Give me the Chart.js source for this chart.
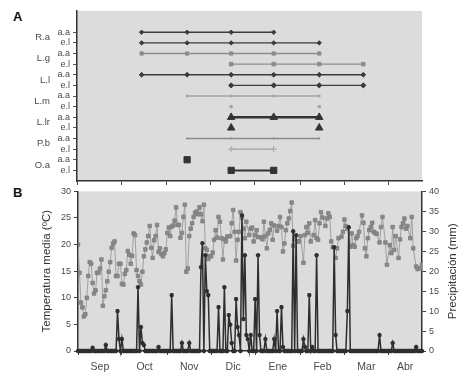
<!DOCTYPE html>
<html>
<head>
<meta charset="utf-8">
<title>Fenología y clima</title>
<script src="https://cdn.jsdelivr.net/npm/chart.js@4/dist/chart.umd.min.js"></script>
<style>
  body { margin:0; background:#fff; width:463px; height:381px; position:relative; overflow:hidden; font-family:"Liberation Sans", Arial, sans-serif; }
  canvas { position:absolute; left:0; }
  #chartA { top:0; }
  #chartB { top:183px; }
  .panel { position:absolute; font-weight:bold; font-size:13px; color:#111; }
</style>
</head>
<body>
<div class="panel" style="left:13px;top:9px;">A</div>
<div class="panel" style="left:13px;top:185px;">B</div>
<canvas id="chartA" width="463" height="190"></canvas>
<canvas id="chartB" width="463" height="198"></canvas>
<script>
// ---- axis: days from 1 Sep ----
const months = ['Sep','Oct','Nov','Dic','Ene','Feb','Mar','Abr'];
const monthStart = [0, 30, 61, 91, 121, 152, 182, 212];
const dayMax = 235;

// ---- panel A: sampling dates and presence per row (1 = recorded) ----
const sampleDays = [44, 75, 105, 134, 165, 195];
const species = ['R.a','L.g','L.l','L.m','L.lr','P.b','O.a'];
const stages = ['a.a','e.l'];
const Ra_aa  = [1,1,1,1,0,0];
const Ra_el  = [1,1,1,1,1,0];
const Lg_aa  = [1,1,1,1,1,0];
const Lg_el  = [0,0,1,1,1,1];
const Ll_aa  = [1,1,1,1,1,1];
const Ll_el  = [0,0,1,1,1,1];
const Lm_aa  = [0,1,1,1,1,0];
const Lm_el  = [0,0,1,0,1,0];
const Llr_aa = [0,0,1,1,1,0];
const Llr_el = [0,0,1,0,1,0];
const Pb_aa  = [0,1,1,1,1,0];
const Pb_el  = [0,0,1,1,0,0];
const Oa_aa  = [0,1,0,0,0,0];
const Oa_el  = [0,0,1,1,0,0];

// ---- panel B: daily mean temperature (ºC), null = not readable ----
const tempC = [
  20,14.7,9.1,8.2,6.5,6.9,10,14.1,16.7,16.4,12.8,10.8,11.4,14.7,14.7,15.5,17.2,8.5,10.3,11.4,13.1,14.9,16.7,19.4,20.2,20.6,14.1,14.1,16.4,16.4,
  12.6,12.5,14.5,15.2,18.8,18.1,16.4,17.9,22.1,21.8,15.2,14.1,13.1,12.5,14.9,17.8,19.1,20.4,21.6,23.5,19.4,17.5,20.8,21.6,23.7,18.6,19.3,18.2,17.8,18.4,19.1,
  22.2,23.2,21.6,23.4,23.6,24.5,27.0,23.7,23.7,21.3,22.2,25.2,27.5,14.9,15.5,21.6,23.0,24.0,25.2,26.0,26.2,25.7,27.0,25.7,24.4,27.5,19.3,19.0,17.3,17.8,
  17.8,18.5,20.9,22.7,21.3,25.2,24.3,21.2,17.2,21.0,20.6,21.5,null,21.6,24.0,26.5,22.4,17.0,20.9,22.4,26.1,25.1,23.0,21.2,24.3,null,21.8,23.0,23.2,20.6,21.8,
  22.7,21.4,null,21.4,21.0,24.3,21.6,19.3,22.1,22.8,24.0,20.9,23.6,null,22.6,23.5,25.2,23.3,18.7,20.2,22.7,24.0,24.9,26.3,27.9,19.8,21.0,null,20.6,20.6,21.6,
  null,16.6,21.8,23.3,22.2,24.0,20.6,null,21.8,24.6,21.2,20.9,24.0,26.1,25.1,null,23.5,24.9,25.9,25.2,20.6,19.5,null,17.5,19.3,21.2,
  null,21.5,22.4,24.7,23.5,23.0,null,19.6,22.1,19.9,19.6,21.2,21.6,22.4,null,25.5,24.1,19.3,17.8,21.2,22.7,23.3,24.1,22.4,22.2,22.0,null,20.4,23.3,25.2,null,
  20.4,16.2,null,19.9,18.4,23.3,19.0,21.6,null,17.5,21.0,23.3,24.0,24.9,23.0,23.5,null,21.2,25.2,19.3,null,15.9,15.4,null,15.6,16.2
];

// ---- panel B: rain days and amounts (mm), all other days 0 ----
const rainDays = [10,19,27,28,30,41,43,44,45,55,64,71,76,84,85,87,88,89,96,100,103,104,105,108,109,110,112,113,114,115,116,118,121,123,124,128,134,136,139,140,147,149,154,155,158,160,163,175,176,184,185,206,215,231];
const rainMm   = [0.8,1.5,10,3,3,16,6,2,1.5,1,14,2,2,21,27,24,15,14,11,16,9,6.6,2,13,6,4,34,8,24,4,3,4,13,24,4,3,3,10,11,1,30,29,3,1,14,1,24,26,4,10,31,4,2,1];

const FONT = "'Liberation Sans', Arial, sans-serif";
const TXT = '#4a4a4a';

const plotBg = {
  id: 'plotBg',
  beforeDraw(chart) {
    const {ctx, chartArea: a} = chart;
    ctx.save();
    ctx.fillStyle = '#dcdcdc';
    ctx.fillRect(a.left, a.top, a.right - a.left, a.bottom - a.top);
    ctx.restore();
  }
};

// right axis title reads bottom-to-top like the left one
const rightTitle = {
  id: 'rightTitle',
  afterDraw(chart) {
    const s = chart.scales.y2, ctx = chart.ctx;
    ctx.save();
    ctx.translate(s.right - 7, (s.top + s.bottom) / 2);
    ctx.rotate(-Math.PI / 2);
    ctx.font = '11.5px ' + FONT;
    ctx.fillStyle = '#333';
    ctx.textAlign = 'center';
    ctx.textBaseline = 'middle';
    ctx.fillText('Precipitación (mm)', 0, 0);
    ctx.restore();
  }
};

// month boundary ticks + centred month labels
function monthTicks() {
  const t = [];
  monthStart.forEach((m, i) => {
    const end = i + 1 < monthStart.length ? monthStart[i + 1] : dayMax;
    t.push({value: m});
    t.push({value: (m + end) / 2});
  });
  return t;
}

// ---------------- panel A ----------------
const rowFlags = [Ra_aa, Ra_el, Lg_aa, Lg_el, Ll_aa, Ll_el, Lm_aa, Lm_el, Llr_aa, Llr_el, Pb_aa, Pb_el, Oa_aa, Oa_el];
const dark = '#3c3c3c', gray = '#8c8c8c', light = '#a3a3a3';
const rowStyle = [
  {c: dark,  w: 1.4, p: 'rectRot',  r: 2.2},
  {c: dark,  w: 1.4, p: 'rectRot',  r: 2.2},
  {c: gray,  w: 1.3, p: 'rect',     r: 2.3},
  {c: gray,  w: 1.3, p: 'rect',     r: 2.5},
  {c: dark,  w: 1.3, p: 'rectRot',  r: 2.4},
  {c: dark,  w: 1.3, p: 'rectRot',  r: 2.6},
  {c: light, w: 1.3, p: 'rect',     r: 1.2},
  {c: light, w: 0,   p: 'rect',     r: 1.6},
  {c: '#333',w: 2.6, p: 'triangle', r: 4.3},
  {c: '#333',w: 0,   p: 'triangle', r: 4.3},
  {c: gray,  w: 1.5, p: 'rect',     r: 0.8},
  {c: light, w: 1.3, p: 'cross',    r: 3},
  {c: '#333',w: 0,   p: 'rect',     r: 4.4},
  {c: '#333',w: 2,   p: 'rect',     r: 4.4}
];

const dsA = rowFlags.map((flags, row) => {
  const s = rowStyle[row];
  return {
    data: sampleDays.map((d, i) => ({x: d, y: flags[i] ? row : null})),
    borderColor: s.c,
    backgroundColor: s.c,
    borderWidth: s.w,
    showLine: s.w > 0,
    pointStyle: s.p,
    pointRadius: s.r,
    pointBorderWidth: 1,
    spanGaps: false,
    clip: false
  };
});

new Chart(document.getElementById('chartA'), {
  type: 'line',
  data: {datasets: dsA},
  options: {
    responsive: false,
    animation: false,
    layout: {padding: {top: 11, right: 41, left: 0, bottom: 0}},
    plugins: {legend: {display: false}, tooltip: {enabled: false}},
    scales: {
      x: {
        type: 'linear', min: 0, max: dayMax,
        afterBuildTicks: ax => { ax.ticks = monthTicks(); },
        afterFit: ax => { ax.height = 9; },
        ticks: {display: false, autoSkip: false},
        grid: {drawOnChartArea: false, tickLength: 4,
               tickColor: c => c.index % 2 ? 'rgba(0,0,0,0)' : '#444'},
        border: {color: '#333', width: 1.5}
      },
      y: {
        type: 'linear', min: -2, max: 14, reverse: true, weight: 0,
        afterBuildTicks: ax => { ax.ticks = rowFlags.map((f, i) => ({value: i})); },
        afterFit: ax => { ax.width = 24; },
        ticks: {autoSkip: false, padding: 3, color: TXT, font: {family: FONT, size: 9},
                callback: (v, i) => stages[i % 2]},
        grid: {drawOnChartArea: false, tickLength: 4, tickColor: '#555'},
        border: {color: '#333', width: 1.5}
      },
      sp: {
        type: 'linear', position: 'left', min: -2, max: 14, reverse: true, weight: 1,
        afterBuildTicks: ax => { ax.ticks = species.map((s, i) => ({value: i * 2 + 0.5})); },
        afterFit: ax => { ax.width = 53; },
        ticks: {autoSkip: false, padding: 3, color: TXT, font: {family: FONT, size: 9.5},
                callback: (v, i) => species[i]},
        grid: {display: false, drawTicks: false},
        border: {display: false}
      }
    }
  },
  plugins: [plotBg]
});

// ---------------- panel B ----------------
const tempPts = [];
tempC.forEach((v, d) => { if (v !== null) tempPts.push({x: d, y: v}); });

const rainPts = [];
for (let d = 0; d <= dayMax; d++) {
  const k = rainDays.indexOf(d);
  rainPts.push({x: d, y: k < 0 ? 0 : rainMm[k]});
}

new Chart(document.getElementById('chartB'), {
  type: 'line',
  data: {
    datasets: [
      {
        label: 'Precipitación',
        data: rainPts,
        yAxisID: 'y2',
        order: 0,
        borderColor: '#2e2e2e',
        backgroundColor: '#2e2e2e',
        borderWidth: 1.5,
        pointStyle: 'star',
        pointRadius: 2.2,
        pointBorderWidth: 1.3,
        clip: false
      },
      {
        label: 'Temperatura media',
        data: tempPts,
        yAxisID: 'y',
        order: 1,
        borderColor: '#a0a0a0',
        backgroundColor: '#8a8a8a',
        borderWidth: 1,
        pointStyle: 'rect',
        pointRadius: 2.5,
        pointBorderColor: '#7c7c7c',
        pointBorderWidth: 0.8
      }
    ]
  },
  options: {
    responsive: false,
    animation: false,
    layout: {padding: {top: 6, right: 3, left: 40, bottom: 0}},
    plugins: {legend: {display: false}, tooltip: {enabled: false}},
    scales: {
      x: {
        type: 'linear', min: 0, max: dayMax,
        afterBuildTicks: ax => { ax.ticks = monthTicks(); },
        afterFit: ax => { ax.height = 30; },
        ticks: {autoSkip: false, maxRotation: 0, padding: 6, color: TXT,
                font: {family: FONT, size: 10.5},
                callback: (v, i) => i % 2 ? months[(i - 1) / 2] : ''},
        grid: {drawOnChartArea: false, tickLength: 4,
               tickColor: c => c.index % 2 ? 'rgba(0,0,0,0)' : '#444'},
        border: {color: '#333', width: 1.5}
      },
      y: {
        position: 'left', min: 0, max: 30,
        afterFit: ax => { ax.width = 38; },
        ticks: {stepSize: 5, padding: 3, color: TXT, font: {family: FONT, size: 9}},
        title: {display: true, text: 'Temperatura media (ºC)', color: '#333',
                font: {family: FONT, size: 11.5}, padding: {top: 0, bottom: 2}},
        grid: {drawOnChartArea: false, tickLength: 4, tickColor: '#444'},
        border: {color: '#333', width: 1.5}
      },
      y2: {
        position: 'right', min: 0, max: 40,
        afterFit: ax => { ax.width = 38; },
        ticks: {stepSize: 5, padding: 3, color: TXT, font: {family: FONT, size: 9}},
        grid: {drawOnChartArea: false, tickLength: 4, tickColor: '#444'},
        border: {color: '#333', width: 1.5}
      }
    }
  },
  plugins: [plotBg, rightTitle]
});
</script>
</body>
</html>
